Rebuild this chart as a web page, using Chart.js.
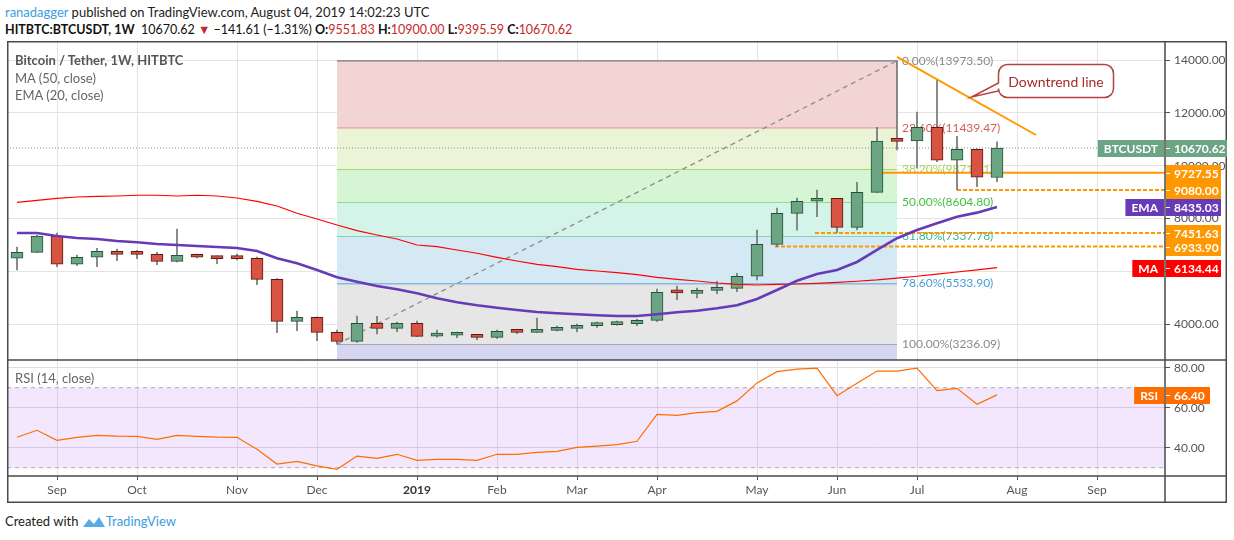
<!DOCTYPE html>
<html>
<head>
<meta charset="utf-8">
<script src="https://cdn.jsdelivr.net/npm/chart.js@4.4.0/dist/chart.umd.min.js"></script>
<style>
    body { margin: 0; width: 1234px; height: 540px; background: #fff; position: relative; overflow: hidden;
           font-family: Lato, 'Open Sans', sans-serif; }
    .txt { position: absolute; white-space: nowrap; }
    #hdr1 { left: 5px; top: 4px; font-size: 13px; color: #222; }
    #hdr2 { left: 5px; top: 22px; font-size: 12.5px; color: #111; }
    #hdr1 .user, #foot .brand { color: #3a9ee0; }
    .red { color: #c62828; }
    .leg { left: 15px; font-size: 13px; color: #666; z-index: 2; }
    #foot { left: 5px; top: 513px; font-size: 13px; color: #222; }
    #wrap { position: absolute; left: 7px; top: 41px; width: 1220px; height: 462px; }
</style>
</head>
<body>
<div id="hdr1" class="txt"><span class="user">ranadagger</span> published on TradingView.com, August 04, 2019 14:02:23 UTC</div>
<div id="hdr2" class="txt"><b>HITBTC:BTCUSDT, 1W</b>&nbsp; 10670.62 <span class="red">&#9660;</span> &minus;141.61 (&minus;1.31%) <b>O:</b><span class="red">9551.83</span> <b>H:</b><span class="red">10900.00</span> <b>L:</b><span class="red">9395.59</span> <b>C:</b><span class="red">10670.62</span></div>
<div id="wrap"><canvas id="btcChart" width="1220" height="462"></canvas></div>
<div class="txt leg" style="top:52px;color:#555;font-weight:bold">Bitcoin / Tether, 1W, HITBTC</div>
<div class="txt leg" style="top:70px">MA (50, close)</div>
<div class="txt leg" style="top:87px">EMA (20, close)</div>
<div class="txt leg" style="top:370px">RSI (14, close)</div>
<div id="foot" class="txt">Created with <svg width="24" height="14" viewBox="0 0 24 14" style="vertical-align:-2px"><path d="M1 13 L7 5 L12 10 L17 3 L23 13 Z" fill="#3a9ee0" opacity="0.85"/></svg><span class="brand">TradingView</span></div>

<script>
// tydenni svicky od 20.8.2018 do 29.7.2019
const opens  = [6490, 6717, 7335, 6263, 6528, 6755, 6660, 6641, 6376, 6604,
                6540, 6495, 6490, 5694, 4102, 4254, 3685, 3344, 4027, 3837,
                4027, 3540, 3575, 3583, 3496, 3700, 3685, 3761, 3837, 3936,
                3974, 4012, 4140, 5200, 5163, 5277, 5353, 5808, 7020, 8195,
                8650, 8763, 7664, 8990, 10950, 10936, 11451, 10208, 10620, 9551.83];
const highs  = [6918, 7373, 7449, 6615, 6869, 6843, 6778, 6717, 7600, 6653,
                6577, 6653, 6540, 5720, 4493, 4270, 3773, 4303, 4292, 4076,
                4114, 3773, 3697, 3590, 3773, 3710, 4227, 3924, 4000, 4075,
                4114, 4178, 5327, 5440, 5364, 5618, 5922, 7563, 8396, 8775,
                9079, 8763, 9367, 11450, 13973.5, 12035, 13248, 11110, 10640, 10900];
const lows   = [6047, 6700, 6172, 6210, 6172, 6400, 6475, 6248, 6350, 6500,
                6286, 6425, 5490, 3670, 3746, 3367, 3236.09, 3300, 3621, 3708,
                3520, 3500, 3481, 3405, 3458, 3633, 3680, 3740, 3697, 3875,
                3960, 3936, 4100, 4920, 4985, 5150, 5224, 5675, 6933.9, 7551,
                8067, 7460, 7563, 8990, 10594, 9902, 10150, 9080, 9204, 9395.59];
const closes = [6717, 7335, 6263, 6528, 6755, 6641, 6640, 6376, 6604, 6528,
                6475, 6480, 5694, 4102, 4254, 3685, 3344, 4027, 3837, 4027,
                3534, 3600, 3585, 3496, 3723, 3680, 3761, 3837, 3951, 4000,
                4038, 4140, 5201, 5180, 5277, 5364, 5808, 7020, 8195, 8650,
                8763, 7664, 8990, 10936, 10920, 11451, 10208, 10620, 9560, 10670.62];
const ma50   = [8612, 8688, 8764, 8813, 8840, 8851, 8878, 8878, 8851, 8878,
                8851, 8775, 8650, 8472, 8195, 7980, 7752, 7536, 7373, 7221,
                6994, 6930, 6805, 6680, 6528, 6388, 6263, 6172, 6073, 6009,
                5944, 5868, 5770, 5694, 5630, 5554, 5505, 5478, 5505, 5516,
                5540, 5580, 5620, 5670, 5740, 5810, 5890, 5970, 6050, 6134.44];
const ema20  = [7449, 7449, 7335, 7260, 7221, 7146, 7096, 7032, 6994, 6956,
                6918, 6880, 6767, 6490, 6300, 6047, 5770, 5603, 5440, 5315,
                5163, 4974, 4822, 4709, 4618, 4530, 4455, 4405, 4368, 4330,
                4303, 4303, 4368, 4443, 4505, 4595, 4709, 4948, 5290, 5640,
                5895, 6047, 6350, 6805, 7250, 7563, 7815, 8067, 8220, 8435.03];
const rsi14  = [45.2, 48.7, 43.7, 45.2, 46.2, 45.8, 45.7, 44.2, 46.2, 45.7,
                45.3, 45.2, 39.2, 31.8, 33.2, 30.9, 29.2, 35.8, 34.7, 36.7,
                33.7, 34.2, 34.2, 33.7, 36.7, 36.7, 37.7, 38.2, 40.2, 40.8,
                41.5, 43.2, 56.7, 56.2, 57.5, 58.2, 63.4, 72.4, 78.0, 79.3,
                79.8, 66.0, 72.2, 78.3, 78.3, 79.8, 68.5, 69.7, 61.7, 66.4];

const monthTickIdx    = [2, 6, 11, 15, 20, 24, 28, 32, 37, 41, 45, 50, 54];
const monthTickLabels = ['Sep', 'Oct', 'Nov', 'Dec', '2019', 'Feb', 'Mar', 'Apr', 'May', 'Jun', 'Jul', 'Aug', 'Sep'];
const priceTicks = [4000, 6000, 8000, 10000, 12000, 14000];
const rsiTicks   = [40, 60, 80];

// fibonacci od dna (svicka 16) k vrcholu (svicka 44)
const fibLow = 3236.09, fibHigh = 13973.50;
const fibFrom = 16, fibTo = 44;
const fibRatios  = [1, 0.786, 0.618, 0.5, 0.382, 0.236, 0];
const fibLabels  = ['100.00%', '78.60%', '61.80%', '50.00%', '38.20%', '23.60%', '0.00%'];
const fibLineCol = ['#787878', '#3a8ac6', '#36b090', '#3ccc3c', '#9ccc3c', '#d24a4a', '#787878'];
const fibTextCol = ['#8a8a8a', '#4a9bd6', '#3bb88f', '#44c044', '#a6d35e', '#d85a5a', '#8a8a8a'];
const fibBandCol = ['#d6d6f2', '#e6e6e6', '#d5e9f5', '#d4f4ea', '#d6f5d4', '#ebf4d6', '#f2d4d4'];

// horizontalni podpory a trendova cara
const supportLevels = [9727.55, 9080.00, 7451.63, 6933.90];
const supportFrom   = [43.3, 47, 39.9, 37.9];
const supportDashed = [false, true, true, true];
const trendX = [44.0, 50.95];
const trendY = [14124, 11162];

const tagValues = [10670.62, 9727.55, 9080.00, 8435.03, 7451.63, 6933.90, 6134.44];
const tagNames  = ['BTCUSDT', '', '', 'EMA', '', '', 'MA'];
const tagColors = ['#6ba583', '#ff9800', '#ff9800', '#673ab7', '#ff9800', '#ff9800', '#ff0000'];

const xMin = -0.5, xMax = 57.4;
const priceMin = 2636, priceMax = 14724;
const rsiMin = 25.85, rsiMax = 83.85;

Chart.defaults.font.family = "Lato, 'Open Sans', sans-serif";
Chart.defaults.font.size = 12;
Chart.defaults.color = '#555';

const idx = opens.map((_, i) => i);
const isUp = i => closes[i] >= opens[i];
const flat = (y, from, to) => [{ x: from, y: y }, { x: to, y: y }];
const fibValue = r => fibHigh - r * (fibHigh - fibLow);

const datasets = [];

// fibonacci pasy
fibRatios.forEach((r, k) => {
    datasets.push({
        type: 'line', yAxisID: 'y', order: 30 - k,
        data: flat(fibValue(r), fibFrom, fibTo),
        borderColor: fibLineCol[k], borderWidth: 1.2,
        backgroundColor: fibBandCol[k],
        fill: k === 0 ? 'start' : '-1',
        pointRadius: 0, fibTop: k === fibRatios.length - 1
    });
});

datasets.push({
    type: 'line', yAxisID: 'y', order: 22,
    data: [{ x: fibFrom, y: fibLow }, { x: fibTo, y: fibHigh }],
    borderColor: '#8c8c8c', borderWidth: 1.3, borderDash: [5, 4], pointRadius: 0, fill: false
});

// RSI pasmo 30-70
datasets.push({
    type: 'line', yAxisID: 'rsi', order: 21, data: flat(70, xMin, xMax),
    borderColor: '#b0a8b8', borderWidth: 1, borderDash: [4, 4], pointRadius: 0, fill: false
});
datasets.push({
    type: 'line', yAxisID: 'rsi', order: 20, data: flat(30, xMin, xMax),
    borderColor: '#b0a8b8', borderWidth: 1, borderDash: [4, 4], pointRadius: 0,
    fill: '-1', backgroundColor: 'rgba(150, 40, 240, 0.11)'
});

datasets.push({
    type: 'line', yAxisID: 'y', order: 16, data: flat(closes[closes.length - 1], xMin, xMax),
    borderColor: '#6f9a82', borderWidth: 1, borderDash: [1, 2], pointRadius: 0, fill: false
});

supportLevels.forEach((v, k) => {
    datasets.push({
        type: 'line', yAxisID: 'y', order: 15, data: flat(v, supportFrom[k], xMax),
        borderColor: '#ff9800', borderWidth: 2, borderDash: supportDashed[k] ? [4, 2] : [],
        pointRadius: 0, fill: false
    });
});

// svicky - knoty a tela
datasets.push({
    type: 'bar', yAxisID: 'y', order: 7, grouped: false, barThickness: 1,
    data: idx.map(i => ({ x: i, y: [lows[i], highs[i]] })),
    backgroundColor: '#737375', borderWidth: 0
});
datasets.push({
    type: 'bar', yAxisID: 'y', order: 6, grouped: false, barThickness: 12, minBarLength: 3,
    data: idx.map(i => ({ x: i, y: [opens[i], closes[i]] })),
    backgroundColor: c => isUp(c.dataIndex) ? '#6ba583' : '#d75442',
    borderColor: c => isUp(c.dataIndex) ? '#225437' : '#5b1a13',
    borderWidth: 1, borderSkipped: false
});

datasets.push({
    type: 'line', yAxisID: 'y', order: 4, data: idx.map(i => ({ x: i, y: ma50[i] })),
    borderColor: '#ff0000', borderWidth: 1.2, pointRadius: 0, fill: false
});
datasets.push({
    type: 'line', yAxisID: 'y', order: 3, data: idx.map(i => ({ x: i, y: ema20[i] })),
    borderColor: '#673ab7', borderWidth: 2.6, pointRadius: 0, fill: false
});
datasets.push({
    type: 'line', yAxisID: 'y', order: 2,
    data: trendX.map((x, k) => ({ x: x, y: trendY[k] })),
    borderColor: '#ff9800', borderWidth: 2, pointRadius: 0, fill: false
});
datasets.push({
    type: 'line', yAxisID: 'rsi', order: 1, data: idx.map(i => ({ x: i, y: rsi14[i] })),
    borderColor: '#ff6d00', borderWidth: 1.2, pointRadius: 0, fill: false
});

// popisky fibonacciho urovni (pod svickami)
const fibTextPlugin = {
    id: 'fibText',
    afterDatasetDraw(chart, args) {
        if (!chart.data.datasets[args.index].fibTop) return;
        const { ctx, scales } = chart;
        const x = scales.x.getPixelForValue(fibTo) + 5;
        ctx.save();
        ctx.font = "12px Lato, 'Open Sans', sans-serif";
        ctx.textBaseline = 'middle';
        ctx.textAlign = 'left';
        fibRatios.forEach((r, k) => {
            const v = fibValue(r);
            ctx.fillStyle = fibTextCol[k];
            ctx.fillText(fibLabels[k] + '(' + v.toFixed(2) + ')', x, scales.y.getPixelForValue(v));
        });
        ctx.restore();
    }
};

function drawTag(ctx, area, y, color, text, name, w) {
    y = Math.round(y);
    ctx.fillStyle = color;
    ctx.fillRect(area.right + 1, y - 8, w, 17);
    ctx.strokeStyle = '#fff';
    ctx.lineWidth = 1;
    ctx.beginPath();
    ctx.moveTo(area.right + 1, y + 0.5);
    ctx.lineTo(area.right + 5, y + 0.5);
    ctx.stroke();
    ctx.fillStyle = '#fff';
    ctx.textBaseline = 'middle';
    ctx.textAlign = 'left';
    ctx.fillText(text, area.right + 9, y + 1);
    if (name) {
        const nw = ctx.measureText(name).width + 12;
        ctx.fillStyle = color;
        ctx.fillRect(area.right - 1 - nw, y - 8, nw, 17);
        ctx.fillStyle = '#fff';
        ctx.textAlign = 'center';
        ctx.fillText(name, area.right - 1 - nw / 2, y + 1);
    }
}

// ramecek, stitky na ose a bublina
const framePlugin = {
    id: 'frame',
    afterDraw(chart) {
        const { ctx, chartArea: a, scales } = chart;
        ctx.save();
        ctx.strokeStyle = '#4a4a4a';
        ctx.lineWidth = 1.5;
        ctx.strokeRect(0.75, 0.75, chart.width - 1.5, chart.height - 1.5);
        ctx.beginPath();
        ctx.moveTo(0, scales.y.bottom); ctx.lineTo(chart.width, scales.y.bottom);
        ctx.moveTo(0, a.bottom); ctx.lineTo(chart.width, a.bottom);
        ctx.moveTo(a.right, 0); ctx.lineTo(a.right, chart.height);
        ctx.stroke();

        ctx.font = "bold 12px Lato, 'Open Sans', sans-serif";
        tagValues.forEach((v, k) => {
            drawTag(ctx, a, scales.y.getPixelForValue(v), tagColors[k], v.toFixed(2), tagNames[k], k === 0 ? 62 : 55);
        });
        const lastRsi = rsi14[rsi14.length - 1];
        drawTag(ctx, a, scales.rsi.getPixelForValue(lastRsi), '#ff6d00', lastRsi.toFixed(2), 'RSI', 44);

        // bublina "Downtrend line"
        const cx = scales.x.getPixelForValue(51.95), cy = scales.y.getPixelForValue(13208);
        const w = 115, h = 33, r = 9;
        const l = cx - w / 2, t = cy - h / 2;
        ctx.beginPath();
        ctx.moveTo(l + r, t);
        ctx.lineTo(l + w - r, t);
        ctx.arcTo(l + w, t, l + w, t + r, r);
        ctx.lineTo(l + w, t + h - r);
        ctx.arcTo(l + w, t + h, l + w - r, t + h, r);
        ctx.lineTo(l + r, t + h);
        ctx.arcTo(l, t + h, l, t + h - r, r);
        ctx.lineTo(l, cy + 10);
        ctx.lineTo(l - 27, cy + 16);
        ctx.lineTo(l, cy + 2);
        ctx.lineTo(l, t + r);
        ctx.arcTo(l, t, l + r, t, r);
        ctx.closePath();
        ctx.fillStyle = '#fff';
        ctx.fill();
        ctx.strokeStyle = '#b5423f';
        ctx.lineWidth = 1.5;
        ctx.stroke();
        ctx.fillStyle = '#a52a2a';
        ctx.font = "14px Lato, 'Open Sans', sans-serif";
        ctx.textAlign = 'center';
        ctx.textBaseline = 'middle';
        ctx.fillText('Downtrend line', cx, cy + 1);
        ctx.restore();
    }
};

// osa bez okrajovych odsazeni, pevna sirka/vyska
const fixAxis = (w, h) => s => {
    if (w) s.width = w;
    if (h) s.height = h;
    s.paddingTop = 0; s.paddingBottom = 0; s.paddingLeft = 0; s.paddingRight = 0;
};

new Chart(document.getElementById('btcChart'), {
    type: 'bar',
    data: { datasets: datasets },
    options: {
        responsive: false,
        animation: false,
        events: [],
        layout: { padding: 0 },
        plugins: { legend: { display: false }, tooltip: { enabled: false } },
        scales: {
            x: {
                type: 'linear', min: xMin, max: xMax, offset: false,
                grid: { color: '#e4e4e4', offset: false, tickLength: 4, tickColor: '#555' },
                border: { display: false },
                afterBuildTicks: s => { s.ticks = monthTickIdx.map(v => ({ value: v })); },
                afterFit: fixAxis(0, 27),
                ticks: {
                    autoSkip: false, maxRotation: 0, padding: 3,
                    font: c => ({ weight: c.tick && c.tick.value === 20 ? 'bold' : 'normal' }),
                    color: c => c.tick && c.tick.value === 20 ? '#333' : '#555',
                    callback: v => monthTickLabels[monthTickIdx.indexOf(v)]
                }
            },
            y: {
                type: 'linear', position: 'right', stack: 'pane', stackWeight: 319,
                min: priceMin, max: priceMax,
                grid: { color: '#e4e4e4', tickLength: 5, tickColor: '#555' },
                border: { display: false },
                afterBuildTicks: s => { s.ticks = priceTicks.map(v => ({ value: v })); },
                afterFit: fixAxis(62, 0),
                ticks: { padding: 4, callback: v => v.toFixed(2) }
            },
            rsi: {
                type: 'linear', position: 'right', stack: 'pane', stackWeight: 116,
                min: rsiMin, max: rsiMax,
                grid: { color: '#e0dce4', tickLength: 5, tickColor: '#555' },
                border: { display: false },
                afterBuildTicks: s => { s.ticks = rsiTicks.map(v => ({ value: v })); },
                afterFit: fixAxis(62, 0),
                ticks: { padding: 4, callback: v => v.toFixed(2) }
            }
        }
    },
    plugins: [fibTextPlugin, framePlugin]
});
</script>
</body>
</html>
